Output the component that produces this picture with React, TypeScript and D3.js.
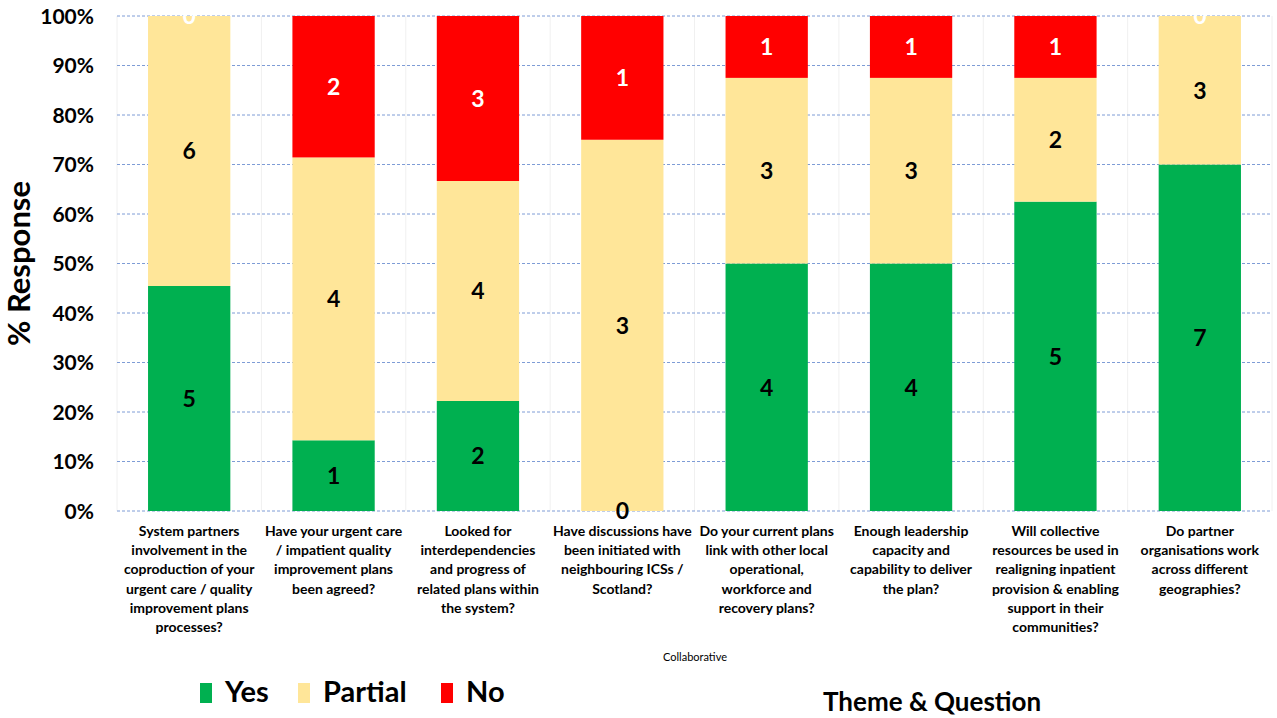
import * as React from 'react';
import * as d3 from 'd3';

const questions: string[][] = [
  ['System partners', 'involvement in the', 'coproduction of your', 'urgent care / quality', 'improvement plans', 'processes?'],
  ['Have your urgent care', '/ impatient quality', 'improvement plans', 'been agreed?'],
  ['Looked for', 'interdependencies', 'and progress of', 'related plans within', 'the system?'],
  ['Have discussions have', 'been initiated with', 'neighbouring ICSs /', 'Scotland?'],
  ['Do your current plans', 'link with other local', 'operational,', 'workforce and', 'recovery plans?'],
  ['Enough leadership', 'capacity and', 'capability to deliver', 'the plan?'],
  ['Will collective', 'resources be used in', 'realigning inpatient', 'provision & enabling', 'support in their', 'communities?'],
  ['Do partner', 'organisations work', 'across different', 'geographies?'],
];

const yes = [5, 1, 2, 0, 4, 4, 5, 7];
const partial = [6, 4, 4, 3, 3, 3, 2, 3];
const no = [0, 2, 3, 1, 1, 1, 1, 0];

const seriesNames = ['Yes', 'Partial', 'No'];
const seriesColors = ['#00B050', '#FFE699', '#FF0000'];
const labelColors = ['#000', '#000', '#fff'];
const yTicks = [0, 0.1, 0.2, 0.3, 0.4, 0.5, 0.6, 0.7, 0.8, 0.9, 1];

const W = 1277, H = 718;
const left = 117, right = 1272, top = 16, bottom = 511;
const font = 'Lato, "Open Sans", sans-serif';

export default function App() {
  const idx = questions.map((_, i) => String(i));
  const x = d3.scaleBand().domain(idx).range([left, right]).paddingInner(0.43).paddingOuter(0.215);
  const xCat = d3.scaleBand().domain(idx).range([left, right]);
  const y = d3.scaleLinear().domain([0, 1]).range([bottom, top]);

  const rows = idx.map((_, i) => {
    const total = yes[i] + partial[i] + no[i];
    return { i, vals: [yes[i], partial[i], no[i]], total };
  });

  return (
    <svg width={W} height={H} style={{ position: 'absolute', left: 0, top: 0, background: '#fff' }}>
      {/* category separators */}
      {idx.map((d, i) => (
        <line key={'v' + i} x1={xCat(d)!} x2={xCat(d)!} y1={top} y2={bottom} stroke="#f0f0f0" strokeWidth={1} />
      ))}
      <line x1={right} x2={right} y1={top} y2={bottom} stroke="#f0f0f0" />
      {/* horizontal grid */}
      {yTicks.map(t => (
        <line key={'g' + t} x1={left} x2={right} y1={y(t)} y2={y(t)} stroke="#7E9CD6" strokeDasharray="3,2" strokeWidth={1} />
      ))}
      {/* bars */}
      {rows.map(r => {
        let acc = 0;
        return (
          <g key={'b' + r.i}>
            {r.vals.map((v, s) => {
              const y0 = acc / r.total;
              acc += v;
              const y1 = acc / r.total;
              return (
                <rect key={s} x={x(String(r.i))!} width={x.bandwidth()} y={y(y1)} height={y(y0) - y(y1)} fill={seriesColors[s]} />
              );
            })}
          </g>
        );
      })}
      {/* value labels */}
      {rows.map(r => {
        let acc = 0;
        return (
          <g key={'l' + r.i}>
            {r.vals.map((v, s) => {
              const y0 = acc / r.total;
              acc += v;
              const y1 = acc / r.total;
              return (
                <text key={s} x={x(String(r.i))! + x.bandwidth() / 2} y={(y(y0) + y(y1)) / 2} dy="0.36em"
                  textAnchor="middle" fontFamily={font} fontWeight="bold" fontSize={23} fill={labelColors[s]}>
                  {v}
                </text>
              );
            })}
          </g>
        );
      })}
      {/* y axis labels */}
      {yTicks.map(t => (
        <text key={'t' + t} x={94} y={y(t)} dy="0.36em" textAnchor="end" fontFamily={font} fontWeight="bold" fontSize={21} fill="#000">
          {d3.format('.0%')(t)}
        </text>
      ))}
      <text transform={`translate(30,${(top + bottom) / 2}) rotate(-90)`} textAnchor="middle" fontFamily={font} fontWeight="bold" fontSize={31} fill="#000">
        % Response
      </text>
      {/* category labels */}
      {questions.map((lines, i) => (
        <text key={'c' + i} x={xCat(String(i))! + xCat.bandwidth() / 2} y={536} textAnchor="middle" fontFamily={font} fontWeight="bold" fontSize={14} fill="#000">
          {lines.map((ln, k) => (
            <tspan key={k} x={xCat(String(i))! + xCat.bandwidth() / 2} dy={k === 0 ? 0 : 19.2}>{ln}</tspan>
          ))}
        </text>
      ))}
      <text x={695} y={661} textAnchor="middle" fontFamily={font} fontSize={11} fill="#000">Collaborative</text>
      {/* legend */}
      {seriesNames.map((n, s) => {
        const lx = [200, 298, 441][s];
        return (
          <g key={'lg' + s}>
            <rect x={lx} y={683} width={12} height={20} fill={seriesColors[s]} />
            <text x={lx + 25} y={702} fontFamily={font} fontWeight="bold" fontSize={29} fill="#000">{n}</text>
          </g>
        );
      })}
      <text x={823} y={711} fontFamily={font} fontWeight="bold" fontSize={26} fill="#000">Theme &amp; Question</text>
    </svg>
  );
}
